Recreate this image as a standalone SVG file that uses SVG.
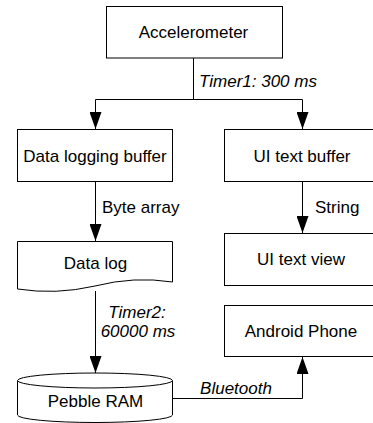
<svg xmlns="http://www.w3.org/2000/svg" width="373" height="423" viewBox="0 0 373 423">
<style>
.box{fill:#fff;stroke:#000;stroke-width:1}
.t{font-family:"Liberation Sans",Arial,sans-serif;font-size:17px;fill:#000;text-anchor:middle}
.lbl{font-family:"Liberation Sans",Arial,sans-serif;font-size:17px;fill:#000}
.it{font-style:italic}
.edge{fill:none;stroke:#000;stroke-width:1;marker-end:url(#arr)}
</style>
<defs>
<marker id="arr" viewBox="0 0 17 12" refX="17" refY="6" markerWidth="17" markerHeight="12" markerUnits="userSpaceOnUse" orient="auto">
<path d="M0,0 L17,6 L0,12 Z" fill="#000"/>
</marker>
</defs>
<rect width="373" height="423" fill="#fff"/>
<g id="connectors">
<path class="edge" d="M193.5,58 V99.5 H95.5 V129"/>
<path class="edge" d="M193.5,58 V99.5 H302.5 V129"/>
<path class="edge" d="M95.5,182 V241"/>
<path class="edge" d="M302.5,182 V233"/>
<path class="edge" d="M95.5,291 V373"/>
<path class="edge" d="M173,398.5 H302.5 V357"/>
<text class="lbl it" x="199" y="87">Timer1: 300 ms</text>
<text class="lbl" x="102" y="213">Byte array</text>
<text class="lbl" x="315" y="213">String</text>
<text class="t it" x="137" y="317.5">Timer2:</text>
<text class="t it" x="138" y="337">60000 ms</text>
<text class="t it" x="236" y="394">Bluetooth</text>
</g>
<g id="accelerometer">
<rect class="box" x="106.5" y="6.5" width="176" height="51.5"/>
<text class="t" x="193.5" y="38">Accelerometer</text>
</g>
<g id="data-logging-buffer">
<rect class="box" x="17.5" y="129.5" width="155" height="52"/>
<text class="t" x="95" y="162">Data logging buffer</text>
</g>
<g id="ui-text-buffer">
<rect class="box" x="224.5" y="129.5" width="155" height="52"/>
<text class="t" x="302" y="162">UI text buffer</text>
</g>
<g id="data-log">
<path class="box" d="M17.5,241.5 H172.5 V282 Q134,276 95,286 Q56,295 17.5,289 Z"/>
<text class="t" x="95.5" y="268.5">Data log</text>
</g>
<g id="ui-text-view">
<rect class="box" x="224.5" y="233.5" width="155" height="52"/>
<text class="t" x="301" y="265">UI text view</text>
</g>
<g id="android-phone">
<rect class="box" x="224.5" y="305.5" width="155" height="51"/>
<text class="t" x="301" y="337">Android Phone</text>
</g>
<g id="pebble-ram">
<path class="box" d="M17.5,380.5 A77.5,7.5 0 0 1 172.5,380.5 V415 A77.5,7.5 0 0 1 17.5,415 Z"/>
<path class="box" d="M17.5,380.5 A77.5,7.5 0 0 0 172.5,380.5" fill="none"/>
<text class="t" x="95.5" y="407">Pebble RAM</text>
</g>
</svg>
